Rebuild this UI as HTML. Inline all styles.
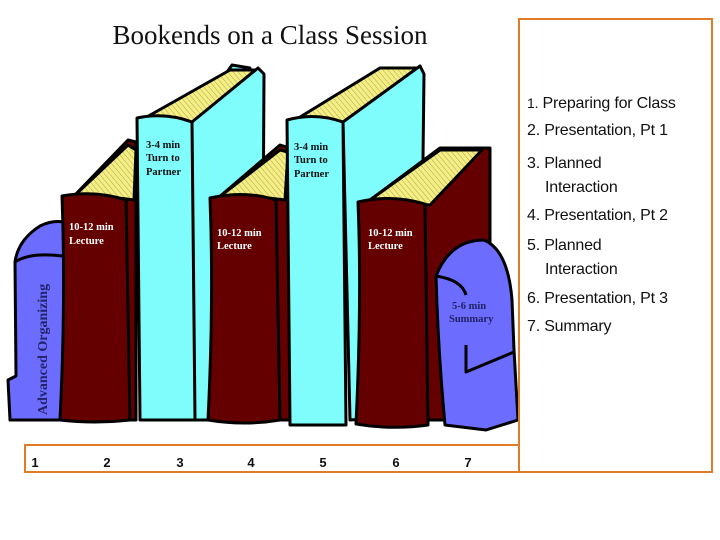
<!DOCTYPE html>
<html><head><style>
html,body{margin:0;padding:0;background:#fff;}
body{width:720px;height:540px;position:relative;overflow:hidden;font-family:"Liberation Sans",sans-serif;}
.list{position:absolute;left:527px;font-size:16px;color:#111;letter-spacing:-0.2px;}
</style></head><body>
<svg width="720" height="540" style="position:absolute;left:0;top:0">
<defs>
<pattern id="hatch" width="4" height="4" patternUnits="userSpaceOnUse" patternTransform="rotate(-40)">
<rect width="4" height="4" fill="#f4ee84"/><line x1="0" y1="0" x2="0" y2="4" stroke="#9a9440" stroke-width="0.8"/>
</pattern>
</defs>
<text x="270" y="44" text-anchor="middle" font-family="Liberation Serif,serif" font-size="27" fill="#111">Bookends on a Class Session</text>
<g stroke="#000" stroke-width="3" stroke-linejoin="round">
<path d="M40 226 Q52 220 64 222 L64 420 L10 420 L8 380 L16 376 L15 262 Q18 240 40 226 Z" fill="#6c6cff"/>
<path d="M15 262 Q30 252 62 256" fill="none"/>
<path d="M72 198 L128 140 L136 142 L136 420 L120 420 Z" fill="#650000"/>
<path d="M72 198 L128 145 L136 150 L134 200 Q100 195 72 198 Z" fill="url(#hatch)"/>
<path d="M62 196 Q95 190 126 200 L130 420 Q95 424 60 420 Q66 300 62 196 Z" fill="#650000"/>
<path d="M192 122 L232 65 L250 68 L246 420 L196 420 Z" fill="#7ffcfc"/>
<path d="M145 118 L230 70 L260 70 L255 130 L190 122 Z" fill="url(#hatch)"/>
<path d="M192 122 L258 68 L264 74 L262 420 L192 420 Z" fill="#7ffcfc"/>
<path d="M137 118 Q165 112 192 122 L195 420 L140 420 Q138 270 137 118 Z" fill="#7ffcfc"/>
<path d="M218 198 L280 145 L290 148 L290 420 L270 420 Z" fill="#650000"/>
<path d="M218 198 L280 150 L288 152 L285 200 Q250 195 218 198 Z" fill="url(#hatch)"/>
<path d="M210 198 Q245 190 276 200 L280 420 Q245 426 208 420 Q214 300 210 198 Z" fill="#650000"/>
<path d="M292 122 L380 68 L420 68 L420 130 L345 122 Z" fill="url(#hatch)"/>
<path d="M343 122 L420 66 L424 74 L420 415 L350 420 Z" fill="#7ffcfc"/>
<path d="M287 120 Q315 112 343 122 L346 425 L290 425 Q288 270 287 120 Z" fill="#7ffcfc"/>
<path d="M370 200 L440 148 L490 148 L490 420 L420 420 Z" fill="#650000"/>
<path d="M370 200 L440 150 L482 150 L430 205 Z" fill="url(#hatch)"/>
<path d="M358 202 Q392 194 425 204 L428 425 Q392 430 356 424 Q362 300 358 202 Z" fill="#650000"/>
<path d="M436 276 Q450 240 484 240 Q508 250 512 300 L514 350 L518 420 L486 430 L445 425 Q438 350 436 276 Z" fill="#6c6cff"/>
<path d="M436 276 Q462 280 466 295" fill="none"/>
<path d="M466 345 L466 372 L514 352" fill="none"/>
</g>
<g font-family="Liberation Serif,serif" font-weight="bold" font-size="10.5" fill="#fff">
<text x="69" y="230">10-12 min</text><text x="69" y="244">Lecture</text>
<text x="217" y="236">10-12 min</text><text x="217" y="249">Lecture</text>
<text x="368" y="236">10-12 min</text><text x="368" y="249">Lecture</text>
</g>
<g font-family="Liberation Serif,serif" font-weight="bold" font-size="10.5" fill="#111">
<text x="146" y="148">3-4 min</text><text x="146" y="161">Turn to</text><text x="146" y="175">Partner</text>
<text x="294" y="150">3-4 min</text><text x="294" y="163">Turn to</text><text x="294" y="177">Partner</text>
</g>
<g font-family="Liberation Serif,serif" font-weight="bold" font-size="10.5" fill="#222266">
<text x="452" y="309">5-6 min</text><text x="449" y="322">Summary</text>
<text transform="translate(47,415) rotate(-90)" font-size="14">Advanced Organizing</text>
</g>
<rect x="519" y="19" width="193" height="453" fill="none" stroke="#e07b28" stroke-width="2"/>
<rect x="25" y="445" width="494" height="27" fill="none" stroke="#e07b28" stroke-width="2"/>
<g font-family="Liberation Sans,sans-serif" font-weight="bold" font-size="13" fill="#111" text-anchor="middle">
<text x="35" y="467">1</text><text x="107" y="467">2</text><text x="180" y="467">3</text><text x="251" y="467">4</text><text x="323" y="467">5</text><text x="396" y="467">6</text><text x="468" y="467">7</text>
</g>
</svg>
<div class="list" style="top:95px"><span style="font-size:14px">1.</span> Preparing for Class</div>
<div class="list" style="top:122px">2. Presentation, Pt 1</div>
<div class="list" style="top:155px">3. Planned</div>
<div class="list" style="top:179px;left:545px">Interaction</div>
<div class="list" style="top:207px">4. Presentation, Pt 2</div>
<div class="list" style="top:237px">5. Planned</div>
<div class="list" style="top:261px;left:545px">Interaction</div>
<div class="list" style="top:290px">6. Presentation, Pt 3</div>
<div class="list" style="top:318px">7. Summary</div>
</body></html>
